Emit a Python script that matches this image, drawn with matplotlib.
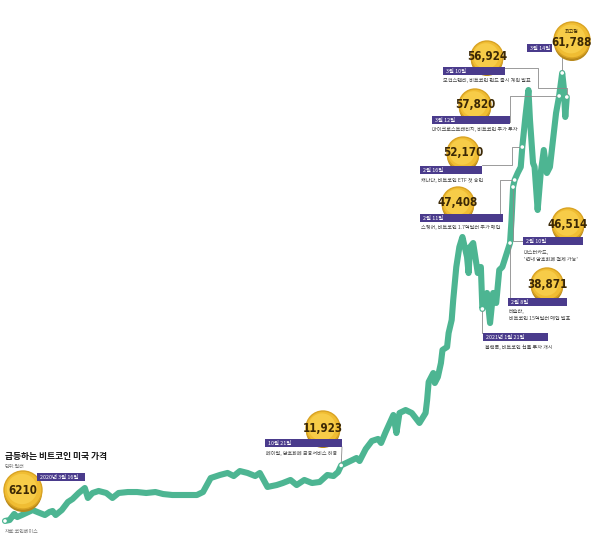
import matplotlib
matplotlib.use('Agg')
import matplotlib.pyplot as plt
import matplotlib.dates as mdates
from matplotlib.patches import Circle, Rectangle
from matplotlib import font_manager
import pandas as pd

plt.rcParams['font.family'] = ['Noto Sans CJK KR', 'DejaVu Sans']

# 비트코인 가격 (달러) - 그림에서 읽은 값
dates = ["2020-03-16", "2020-03-19", "2020-03-22", "2020-03-24", "2020-03-27", "2020-04-03",
         "2020-04-06", "2020-04-11", "2020-04-14", "2020-04-16", "2020-04-18", "2020-04-22",
         "2020-04-26", "2020-04-29", "2020-05-03", "2020-05-07", "2020-05-09", "2020-05-12",
         "2020-05-16", "2020-05-21", "2020-05-25", "2020-05-29", "2020-06-04", "2020-06-10",
         "2020-06-16", "2020-06-22", "2020-06-27", "2020-07-03", "2020-07-13", "2020-07-19",
         "2020-07-23", "2020-07-28", "2020-08-03", "2020-08-08", "2020-08-12", "2020-08-16",
         "2020-08-21", "2020-08-26", "2020-08-29", "2020-09-03", "2020-09-09", "2020-09-13",
         "2020-09-18", "2020-09-22", "2020-09-27", "2020-10-02", "2020-10-07", "2020-10-12",
         "2020-10-16", "2020-10-19", "2020-10-21", "2020-10-27", "2020-10-31", "2020-11-02",
         "2020-11-06", "2020-11-10", "2020-11-14", "2020-11-16", "2020-11-19", "2020-11-24",
         "2020-11-26", "2020-11-28", "2020-12-02", "2020-12-06", "2020-12-11", "2020-12-15",
         "2020-12-16", "2020-12-17", "2020-12-20", "2020-12-21", "2020-12-23", "2020-12-25",
         "2020-12-26", "2020-12-29", "2020-12-30", "2021-01-01", "2021-01-02", "2021-01-04",
         "2021-01-06", "2021-01-08", "2021-01-11", "2021-01-12", "2021-01-13", "2021-01-15",
         "2021-01-18", "2021-01-20", "2021-01-21", "2021-01-24", "2021-01-26", "2021-01-28",
         "2021-01-30", "2021-02-01", "2021-02-03", "2021-02-08", "2021-02-09", "2021-02-10",
         "2021-02-11", "2021-02-13", "2021-02-15", "2021-02-16", "2021-02-18", "2021-02-20",
         "2021-02-21", "2021-02-23", "2021-02-24", "2021-02-26", "2021-02-28", "2021-03-02",
         "2021-03-04", "2021-03-06", "2021-03-08", "2021-03-10", "2021-03-12", "2021-03-14",
         "2021-03-15", "2021-03-16", "2021-03-17"]
prices = [5290, 5410, 6160, 5780, 6030, 6650,
          6410, 6030, 6410, 6530, 6030, 6650,
          7650, 8020, 8770, 9390, 8150, 8770,
          9020, 8770, 8150, 8770, 8890, 8890,
          8770, 8890, 8640, 8520, 8520, 8520,
          8890, 10630, 11010, 11260, 10880, 11500,
          11260, 10880, 11260, 9520, 9760, 10010,
          10390, 9760, 10390, 10010, 10140, 11010,
          10880, 11380, 12200, 12750, 13120, 12750,
          14240, 15240, 15490, 14990, 16360, 18470,
          16230, 18720, 19090, 18720, 17480, 18720,
          20340, 22580, 23690, 22450, 23200, 24940,
          26560, 26930, 28670, 30290, 32770, 36880,
          39370, 40610, 38120, 36130, 39370, 39860,
          36130, 36880, 31660, 33650, 29910, 33650,
          32400, 36510, 36880, 39860, 42730, 46830,
          47700, 48570, 49320, 51800, 55540, 58890,
          55160, 49810, 49320, 43970, 48570, 51430,
          48570, 49320, 52680, 56030, 58150, 61010,
          59270, 55540, 58020]

# 주요 사건
ev_dot = ["2020-03-16", "2020-10-21", "2021-01-21", "2021-02-08", "2021-02-10",
          "2021-02-11", "2021-02-16", "2021-03-12", "2021-03-17", "2021-03-14"]
ev_day = ["2020년 3월 16일", "10월 21일", "2021년 1월 21일", "2월 8일", "2월 10일",
          "2월 11일", "2월 16일", "3월 12일", "3월 10일", "3월 14일"]
ev_price = ["6210", "11,923", None, "38,871", "46,514",
            "47,408", "52,170", "57,820", "56,924", "61,788"]
ev_note = [[], ["페이팔, 암호화폐 금융서비스 허용"], ["블랙록, 비트코인 선물 투자 개시"],
           ["테슬라,", "비트코인 15억달러 매입 발표"], ["마스터카드,", "'연내 암호화폐 결제 가능'"],
           ["스퀘어, 비트코인 1.7억달러 추가 매입"], ["캐나다, 비트코인 ETF 첫 승인"],
           ["마이크로스트래티지, 비트코인 추가 투자"], ["모건스탠리, 비트코인 펀드 출시 계획 발표"],
           []]

LINE = '#4db592'
BAR = '#4a3b8c'

# 코인 숫자용 좁은 글꼴 찾기
narrow = None
for f in font_manager.fontManager.ttflist:
    if 'Condensed' in f.fname and 'Bold' in f.fname and 'DejaVuSans' in f.fname and 'Oblique' not in f.fname:
        narrow = font_manager.FontProperties(fname=f.fname)
        break
if narrow is None:
    narrow = font_manager.FontProperties(family='DejaVu Sans', weight='bold')

fig = plt.figure(figsize=(6, 5.4), dpi=100)
ax = fig.add_axes([0, 0, 1, 1])
x = pd.to_datetime(dates)
ax.plot(x, prices, color=LINE, lw=4.4, solid_joinstyle='round', solid_capstyle='round')
base = mdates.date2num(pd.Timestamp("2020-03-16"))
ax.set_xlim(base - 5 / 1.535, base + 595 / 1.535)
ax.set_ylim(23.5 / 0.00804, 563.5 / 0.00804)
ax.axis('off')

# 주석용 픽셀 좌표 축
ov = fig.add_axes([0, 0, 1, 1], zorder=5)
ov.set_xlim(0, 600)
ov.set_ylim(540, 0)
ov.axis('off')
ov.patch.set_alpha(0)


def px(d):
    v = prices[dates.index(d)]
    a, b = ax.transData.transform((mdates.date2num(pd.Timestamp(d)), v))
    return a, 540 - b


def coin(cx, cy, r, txt, top=None):
    ov.add_patch(Circle((cx, cy + 3), r, fc='#b8891a', ec='none', zorder=3))
    ov.add_patch(Circle((cx, cy), r, fc='#f0bd33', ec='#d9a323', lw=1, zorder=4))
    ov.add_patch(Circle((cx - 1, cy - 1), r * 0.8, fc='#f7cc48', ec='none', zorder=4))
    dy = 0 if top is None else 3
    fp = narrow.copy()
    fp.set_size(8.3)
    ov.text(cx, cy + dy, txt, ha='center', va='center', fontproperties=fp,
            color='#3b2805', zorder=6)
    if top:
        ov.text(cx, cy - 8.5, top, ha='center', va='center', fontsize=3.6, color='#3b2805', zorder=6)


def bar(x0, x1, yc, txt):
    ov.add_patch(Rectangle((x0, yc - 4), x1 - x0, 8, fc=BAR, ec='none', zorder=4))
    ov.text(x0 + 3, yc + 0.3, txt, ha='left', va='center', fontsize=3.9, color='white',
            zorder=6)


def notes(x0, y0, lines):
    for i, t in enumerate(lines):
        ov.text(x0, y0 + i * 7.5, t, ha='left', va='center', fontsize=3.7, color='#444444', zorder=6)


def conn(pts):
    ov.plot([p[0] for p in pts], [p[1] for p in pts], color='#8a8a8a', lw=0.6, zorder=2)


# 레이아웃 (픽셀): 코인 중심, 바 위치, 설명 위치
coins = [(23, 490, 19), (323, 428, 17), None, (547, 284, 16), (568, 224, 16),
         (458, 203, 16), (463, 153, 16), (475, 105, 16), (487, 57, 16), (572, 40, 18)]
bars = [(37, 85, 477), (265, 342, 443), (483, 548, 337), (508, 567, 302), (523, 583, 241),
        (420, 503, 218), (420, 482, 170), (432, 510, 120), (443, 505, 71), (527, 552, 48)]
note_xy = [None, (266, 453), (485, 347), (509, 311), (524, 252),
           (421, 227), (421, 180), (432, 129), (443, 80), None]

dots = [px(d) for d in ev_dot]
conn([(342, 447), dots[1]])
conn([dots[2], (dots[2][0], 333)])
conn([dots[3], (dots[3][0], 302), (508, 302)])
conn([dots[4], (dots[4][0], 241), (523, 241)])
conn([(500, 214), (500, dots[5][1]), dots[5]])
conn([(482, 165), (512, 165), (512, dots[6][1]), dots[6]])
conn([(510, 122), (510, dots[7][1]), dots[7]])
conn([(505, 68), (538, 68), (538, 88), (dots[8][0], 88), dots[8]])
conn([(dots[9][0], 56), dots[9]])

for i in range(len(ev_dot)):
    if coins[i] is not None:
        coin(coins[i][0], coins[i][1], coins[i][2], ev_price[i], top='최고점' if i == 9 else None)
    bar(bars[i][0], bars[i][1], bars[i][2], ev_day[i])
    if note_xy[i] is not None:
        notes(note_xy[i][0], note_xy[i][1], ev_note[i])

for (a, b) in dots:
    ov.add_patch(Circle((a, b), 1.8, fc='white', ec='none', zorder=7))

ov.text(5, 456, "급등하는 비트코인 미국 가격", ha='left', va='center', fontsize=6.3,
        fontweight='bold', color='#111111')
ov.text(5, 466, "단위:달러", ha='left', va='center', fontsize=3.6, color='#777777')
ov.text(5, 531, "자료:코인베이스", ha='left', va='center', fontsize=3.6, color='#777777')

fig.savefig('out.png', dpi=100, facecolor='white')
